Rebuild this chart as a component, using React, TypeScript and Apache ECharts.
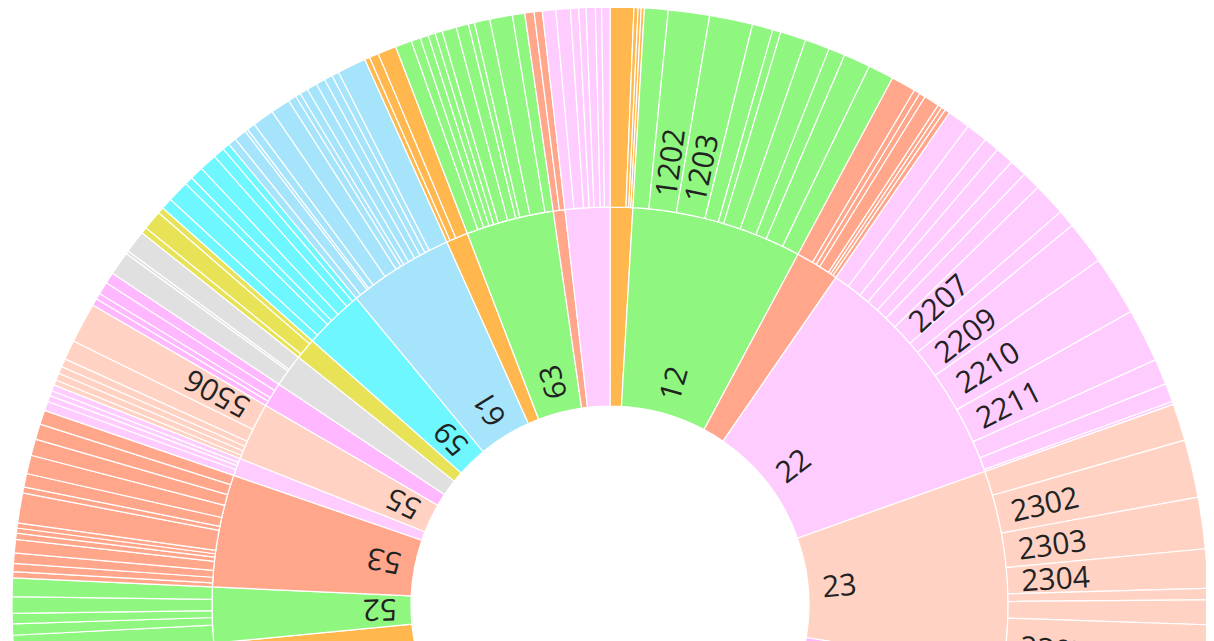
import React, { useEffect, useRef } from 'react';
import * as echarts from 'echarts';

// Level-1 codes, in drawing order (clockwise from 12 o'clock)
const chapters = ['11', '12', '21', '22', '23', '24', '25', '27', '28', '29', '30', '33', '34', '38', '39', '40', '44', '47', '48', '50', '51', '52', '53', '54', '55', '56', '57', '58', '59', '61', '62', '63', '64', '65'];

// Level-2 values per chapter (children named chapter + 01, 02, ...)
const v11 = [23, 4, 3, 3];
const v12 = [23, 40, 42, 20, 8, 25, 24, 16, 26, 25];
const v21 = [24, 6, 6, 15, 4, 4, 5];
const v22 = [22, 21, 15, 18, 17, 18, 32, 17, 42, 58, 52, 25, 18, 3];
const v23 = [36, 56, 50, 38, 11, 24, 75];
const v24 = [22, 18, 14];
const v25 = [45, 30, 25, 20];
const v27 = [60, 35, 40];
const v28 = [25, 30, 20, 15];
const v29 = [50, 40, 35, 25];
const v30 = [40, 28, 22];
const v33 = [35, 25, 20];
const v34 = [30, 20, 15];
const v38 = [40, 35, 25];
const v39 = [55, 45, 40, 30];
const v40 = [45, 30, 25];
const v44 = [50, 40, 30, 20];
const v47 = [25, 20, 15];
const v48 = [45, 35, 30, 20];
const v50 = [45, 35, 22, 15];
const v51 = [20, 15, 15];
const v52 = [26, 11, 10, 16, 18];
const v53 = [6, 8, 10, 13, 6, 5, 5, 29, 6, 13, 18, 16, 15, 14];
const v54 = [9, 6, 5, 6];
const v55 = [5, 7, 7, 8, 19, 39];
const v56 = [7, 6, 12, 11];
const v57 = [23, 3, 22];
const v58 = [6, 19, 6];
const v59 = [11, 21, 8, 13, 17, 11, 7];
const v61 = [8, 12, 3, 8, 21, 19, 8, 5, 8, 10, 9, 8, 7, 28];
const v62 = [5, 9, 18];
const v63 = [16, 9, 8, 7, 7, 14, 12, 6, 15, 22, 12];
const v64 = [9, 8];
const v65 = [13, 14, 8, 7, 9, 6, 8];

const childValues = [v11, v12, v21, v22, v23, v24, v25, v27, v28, v29, v30, v33, v34, v38, v39, v40, v44, v47, v48, v50, v51, v52, v53, v54, v55, v56, v57, v58, v59, v61, v62, v63, v64, v65];

// Names whose labels are drawn
const labelled = ['12', '22', '23', '52', '53', '55', '59', '61', '63', '1202', '1203', '2207', '2209', '2210', '2211', '2302', '2303', '2304', '2307', '5506'];

// Styles
const palette = ['#ffb74e', '#8ff77f', '#ffa68b', '#ffccff', '#ffd2c3', '#ffb8ff', '#e0e0e0', '#e8e356', '#6ef7ff', '#a6e4fc'];
const R0 = 199;
const R1 = 398;
const R2 = 598;
const PAD = 14;

function labelFor(name: string, midDeg: number, ringWidth: number) {
  if (labelled.indexOf(name) < 0) return { show: false };
  if (midDeg < 180) {
    return { show: true, rotate: 'radial', align: 'left', distance: PAD };
  }
  return { show: true, rotate: 90 - midDeg, align: 'right', distance: ringWidth - PAD };
}

function buildData() {
  let total = 0;
  childValues.forEach((arr) => arr.forEach((v) => (total += v)));
  let acc = 0;
  return chapters.map((ch, i) => {
    const color = palette[i % palette.length];
    const start = acc;
    const children = childValues[i].map((v, j) => {
      const name = ch + String(j + 1).padStart(2, '0');
      const mid = ((acc + v / 2) / total) * 360;
      acc += v;
      return { name, value: v, itemStyle: { color }, label: labelFor(name, mid, R2 - R1) };
    });
    const mid1 = ((start + acc) / 2 / total) * 360;
    return { name: ch, itemStyle: { color }, children, label: labelFor(ch, mid1, R1 - R0) };
  });
}

export default function App() {
  const ref = useRef<HTMLDivElement>(null);
  useEffect(() => {
    if (!ref.current) return;
    const chart = echarts.init(ref.current, undefined, { renderer: 'svg' });
    chart.setOption({
      animation: false,
      tooltip: { show: false },
      series: [
        {
          type: 'sunburst',
          center: [602, 597],
          sort: null,
          nodeClick: false,
          startAngle: 90,
          clockwise: true,
          data: buildData(),
          label: { fontSize: 30, fontFamily: 'Open Sans', color: '#222' },
          itemStyle: { borderColor: '#ffffff', borderWidth: 1.2 },
          emphasis: { focus: 'none' },
          levels: [{}, { r0: R0, r: R1 }, { r0: R1, r: R2 }],
        },
      ],
    });
    return () => chart.dispose();
  }, []);
  return <div ref={ref} style={{ width: 1198, height: 633 }} />;
}
